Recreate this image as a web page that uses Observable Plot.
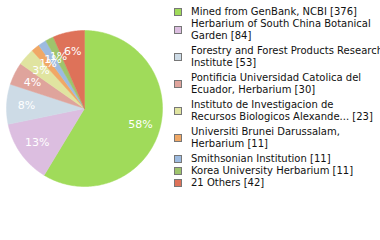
<!DOCTYPE html>
<html>
<head>
<meta charset="utf-8">
<script src="https://cdn.jsdelivr.net/npm/d3@7"></script>
<script src="https://cdn.jsdelivr.net/npm/@observablehq/plot@0.6"></script>
<style>
  html, body { margin: 0; padding: 0; background: #fff; }
  body { width: 380px; height: 240px; overflow: hidden; position: relative;
         font-family: "DejaVu Sans", sans-serif; }
  #chart { position: absolute; left: 0; top: 0; }
  #legend { position: absolute; left: 174px; top: 6px; font-size: 10px; color: #111; }
  .item { display: flex; align-items: center; line-height: 12px; white-space: pre; }
  .item.multi { margin-bottom: 3px; }
  .sw { width: 6px; height: 6px; border: 1px solid #777; margin-right: 9px; flex: none; }
</style>
</head>
<body>
<div id="chart"></div>
<div id="legend"></div>
<script>
const labels = [
  "Mined from GenBank, NCBI",
  "Herbarium of South China Botanical\nGarden",
  "Forestry and Forest Products Research\nInstitute",
  "Pontificia Universidad Catolica del\nEcuador, Herbarium",
  "Instituto de Investigacion de\nRecursos Biologicos Alexande...",
  "Universiti Brunei Darussalam,\nHerbarium",
  "Smithsonian Institution",
  "Korea University Herbarium",
  "21 Others"
];
const counts = [376, 84, 53, 30, 23, 11, 11, 11, 42];
const colors = ["#a0db5a", "#dcbee0", "#cddbe6", "#dfa49c", "#e0e4a0", "#f0a866", "#9dbbe0", "#9ec46c", "#de7259"];

const keys = labels.map((_, i) => String(i));
const rows = labels.map((l, i) => ({key: keys[i], label: l, count: counts[i]}));
const total = d3.sum(counts);
const arcs = d3.pie().sort(null).value(d => d.count)(rows);

// polygon points for each slice, derived from the pie angles
const pts = [];
for (const a of arcs) {
  const k = a.data.key;
  pts.push({key: k, x: 0, y: 0});
  const n = Math.max(2, Math.ceil((a.endAngle - a.startAngle) / (Math.PI / 180)));
  for (let j = 0; j <= n; j++) {
    const t = a.startAngle + (a.endAngle - a.startAngle) * j / n;
    pts.push({key: k, x: Math.sin(t), y: -Math.cos(t)});
  }
  pts.push({key: k, x: 0, y: 0});
}
const lr = 0.744;
const labelData = arcs.map(a => {
  const m = (a.startAngle + a.endAngle) / 2;
  return {x: lr * Math.sin(m), y: -lr * Math.cos(m), text: Math.floor(a.data.count / total * 100) + "%"};
});

const plot = Plot.plot({
  width: 170, height: 240, margin: 0,
  style: {fontFamily: '"DejaVu Sans", sans-serif', background: "transparent"},
  x: {domain: [-1, 1], range: [6, 162], axis: null},
  y: {domain: [-1, 1], range: [30, 186], axis: null},
  color: {domain: keys, range: colors},
  marks: [
    Plot.line(pts, {x: "x", y: "y", z: "key", fill: "key", stroke: "key", strokeWidth: 0.5, curve: "linear"}),
    Plot.text(labelData, {x: "x", y: "y", text: "text", fill: "white", fontSize: 11})
  ]
});
document.getElementById("chart").appendChild(plot);

const legend = document.getElementById("legend");
rows.forEach((r, i) => {
  const it = document.createElement("div");
  it.className = "item" + (r.label.includes("\n") ? " multi" : "");
  const sw = document.createElement("div");
  sw.className = "sw";
  sw.style.background = colors[i];
  const tx = document.createElement("div");
  tx.textContent = r.label + " [" + r.count + "]";
  it.appendChild(sw);
  it.appendChild(tx);
  legend.appendChild(it);
});
</script>
</body>
</html>
